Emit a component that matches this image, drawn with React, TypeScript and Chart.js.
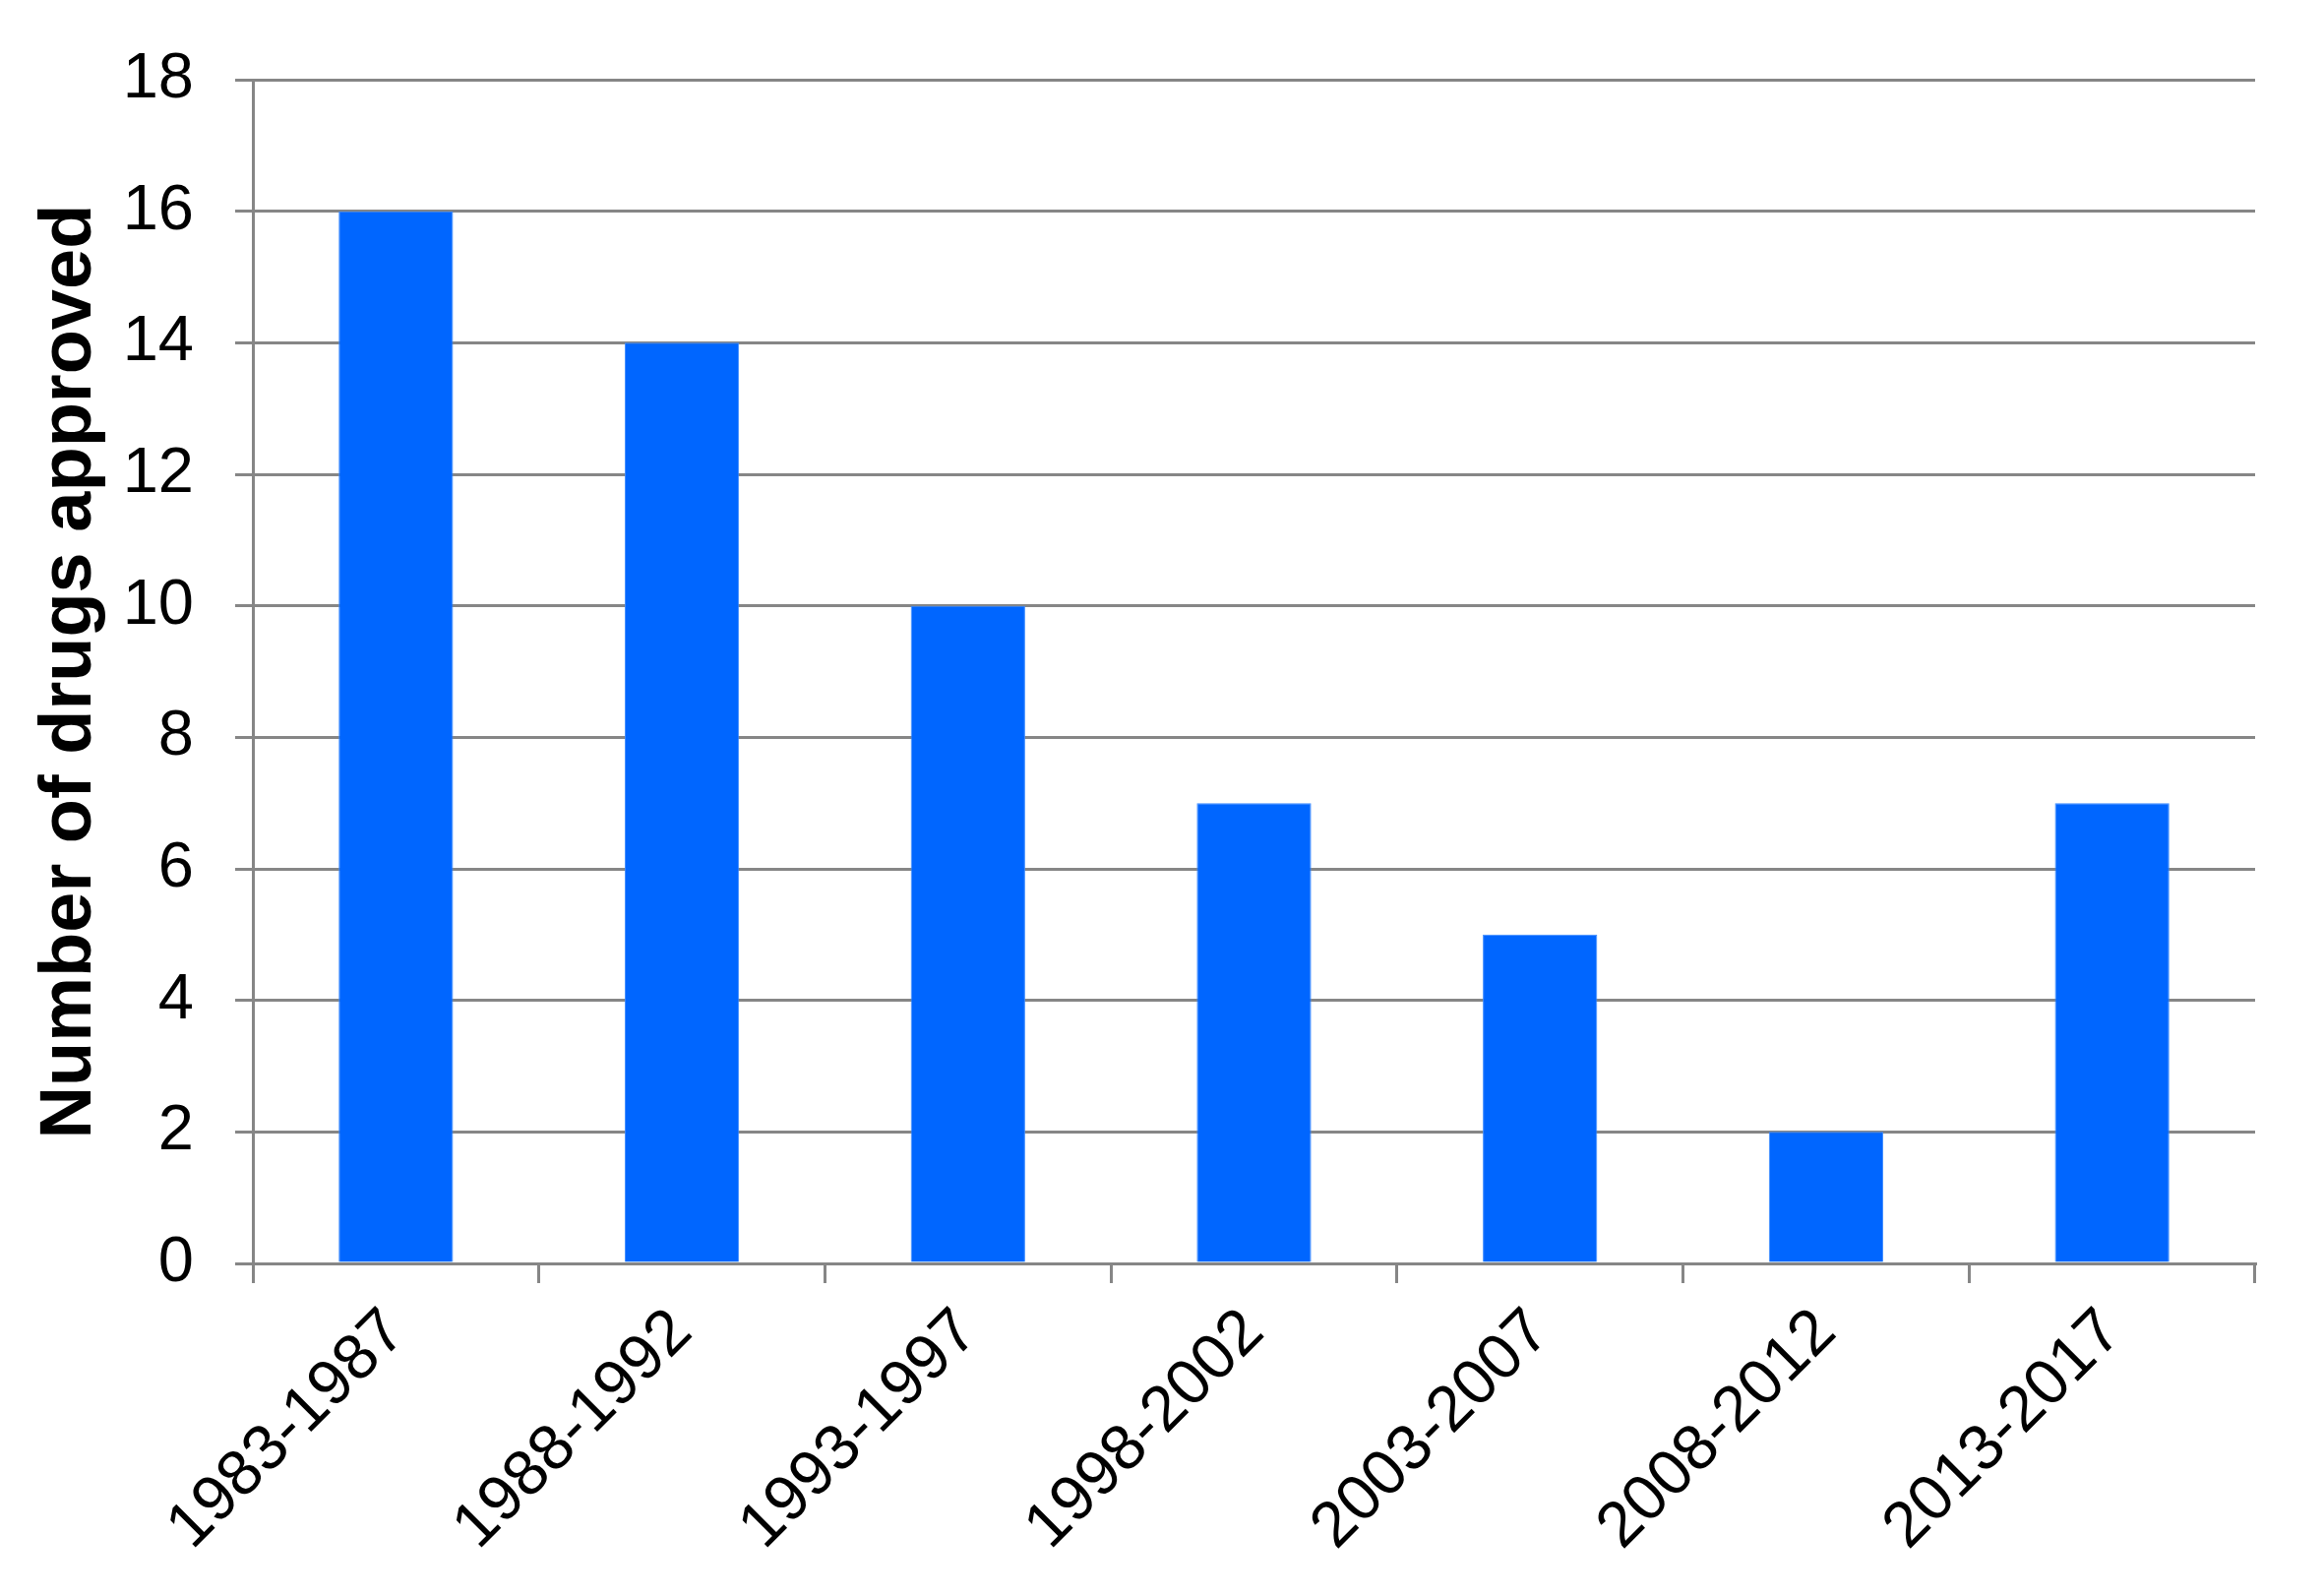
import React, { useEffect, useRef } from "react";
import { Chart, registerables } from "chart.js";

Chart.register(...registerables);

const categories = ["1983-1987", "1988-1992", "1993-1997", "1998-2002", "2003-2007", "2008-2012", "2013-2017"];
const drugsApproved = [16, 14, 10, 7, 5, 2, 7];
const yTicks = [0, 2, 4, 6, 8, 10, 12, 14, 16, 18];
const yTitle = "Number of drugs approved";

const W = 2361;
const H = 1622;
const GRID = "#868686";

export default function App() {
  const ref = useRef<HTMLCanvasElement | null>(null);
  useEffect(() => {
    if (!ref.current) return;
    const chart = new Chart(ref.current, {
      type: "bar",
      data: {
        labels: categories,
        datasets: [
          {
            data: drugsApproved,
            backgroundColor: "#0066ff",
            borderColor: "#3d8cff",
            borderWidth: 1,
            barPercentage: 0.4,
            categoryPercentage: 1.0,
          },
        ],
      },
      options: {
        animation: false,
        responsive: false,
        devicePixelRatio: 1,
        layout: { padding: { top: 72, right: 69, left: 0, bottom: 0 } },
        plugins: { legend: { display: false }, tooltip: { enabled: false } },
        scales: {
          x: {
            offset: true,
            grid: { offset: true, drawOnChartArea: false, drawTicks: true, tickLength: 20, color: GRID, lineWidth: 3 },
            border: { display: true, color: GRID, width: 3 },
            ticks: {
              minRotation: 45,
              maxRotation: 45,
              color: "#000",
              padding: 12,
              font: { family: "'Liberation Sans', Arial, sans-serif", size: 65 },
            },
            afterFit: (s: any) => {
              s.height = H - 1284;
            },
          },
          y: {
            min: 0,
            max: 18,
            afterBuildTicks: (s: any) => {
              s.ticks = yTicks.map((v) => ({ value: v }));
            },
            grid: { color: GRID, lineWidth: 3, tickLength: 18, drawTicks: true },
            border: { display: true, color: GRID, width: 3 },
            ticks: {
              color: "#000",
              padding: 42,
              font: { family: "'Liberation Sans', Arial, sans-serif", size: 65 },
            },
            title: {
              display: true,
              text: yTitle,
              color: "#000",
              font: { family: "'Liberation Sans', Arial, sans-serif", size: 74, weight: "bold" },
              padding: { top: 27, bottom: 0 },
            },
            afterFit: (s: any) => {
              s.width = 257;
            },
          },
        },
      },
    });
    return () => chart.destroy();
  }, []);
  return (
    <div style={{ position: "fixed", left: 0, top: 0, width: W, height: H, background: "#fff" }}>
      <canvas ref={ref} width={W} height={H} style={{ width: W, height: H, display: "block" }} />
    </div>
  );
}
